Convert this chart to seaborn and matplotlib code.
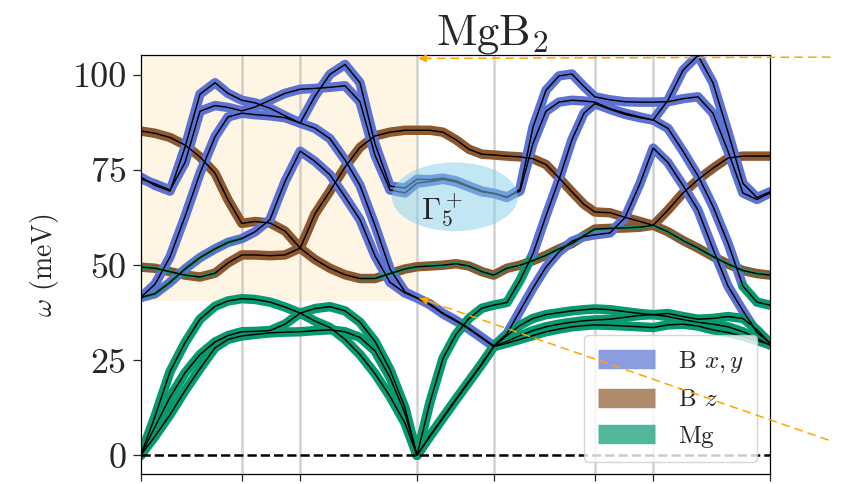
import numpy as np
import pandas as pd
import matplotlib
matplotlib.use("Agg")
import matplotlib.pyplot as plt
import seaborn as sns
from matplotlib.patches import Ellipse
from matplotlib.lines import Line2D

# ---------------- data ----------------
# high-symmetry points along Γ-M-K-Γ-A-L-H-A (cumulative |k|, 1/Å)
sym_pos = [0.0, 1.1755, 1.8542, 3.2117, 4.1032, 5.2787, 5.9574, 7.3149]

# sampling positions along the path
k = [0.0, 0.166, 0.341, 0.515, 0.689, 0.864, 1.015, 1.1755,          # Γ-M
     1.329, 1.503, 1.677, 1.8542,                                     # M-K
     2.026, 2.200, 2.375, 2.549, 2.723, 2.898, 3.072, 3.2117,         # K-Γ
     3.363, 3.514, 3.665, 3.816, 3.967, 4.1032,                       # Γ-A
     4.258, 4.409, 4.560, 4.711, 4.862, 5.013, 5.153, 5.2787,         # A-L
     5.455, 5.629, 5.804, 5.9574,                                     # L-H
     6.129, 6.304, 6.478, 6.652, 6.827, 7.001, 7.164, 7.3149]         # H-A

# phonon branches (meV)
b1g = [85.3, 84.7, 83.6, 81.6, 78.5, 74.2, 67.2, 61.0,
       61.5, 61.1, 59.0, 54.5,
       63.5, 69.5, 75.8, 81.0, 84.0, 85.0, 85.5, 85.5,
       85.5, 85.0, 83.0, 80.5, 79.2, 79.0,
       78.7, 78.5, 78.0, 76.5, 73.0, 69.3, 66.0, 64.0,
       63.8, 62.6, 61.5, 60.5,
       64.5, 69.0, 72.5, 75.5, 78.2, 78.7, 78.7, 78.7]
a2u = [49.5, 49.2, 48.3, 47.4, 46.9, 47.9, 50.6, 52.7,
       52.7, 52.5, 52.7, 54.5,
       51.5, 49.2, 47.5, 46.5, 46.5, 47.8, 49.0, 49.6,
       49.8, 50.0, 50.4, 49.8, 48.3, 47.4,
       49.2, 50.0, 51.2, 52.6, 54.3, 55.7, 57.8, 59.5,
       59.7, 59.8, 60.0, 60.5,
       58.8, 56.5, 54.5, 52.3, 50.3, 48.6, 47.8, 47.4]
e2g_a = [73.2, 71.0, 69.5, 81.0, 95.0, 98.0, 95.2, 93.4,
         92.7, 91.3, 89.3, 87.4,
         94.5, 100.2, 102.8, 98.0, 82.0, 70.8, 70.3, 72.6,
         72.5, 72.9, 72.2, 70.8, 69.5, 68.9,
         67.8, 70.0, 86.3, 96.0, 99.8, 100.3, 97.0, 94.3,
         93.5, 93.0, 92.9, 92.9,
         93.0, 93.8, 94.3, 90.0, 80.0, 69.0, 67.3, 69.0]
e2g_b = [72.7, 71.4, 69.8, 77.0, 90.5, 92.0, 91.5, 90.6,
         91.6, 93.4, 95.2, 96.3,
         96.5, 96.8, 97.2, 93.0, 79.0, 69.8, 69.0, 71.6,
         72.0, 72.6, 71.9, 70.6, 69.3, 68.9,
         68.0, 69.5, 82.0, 90.5, 92.9, 93.4, 93.2, 92.9,
         91.2, 90.0, 89.0, 88.2,
         93.4, 101.3, 105.2, 98.0, 85.0, 71.5, 67.8, 69.3]
eu_a = [41.5, 45.0, 52.2, 62.8, 74.2, 83.8, 89.0, 90.0,
        89.6, 89.3, 88.8, 87.4,
        86.0, 83.3, 77.7, 71.0, 60.5, 49.0, 43.0, 41.4,
        39.8, 37.4, 35.5, 33.4, 31.0, 28.8,
        32.0, 38.0, 44.0, 49.5, 53.5, 56.3, 57.5, 58.0,
        58.5, 62.5, 71.5, 80.8,
        77.0, 71.0, 64.5, 54.3, 44.5, 38.0, 32.3, 29.5]
eu_b = [41.5, 42.5, 45.5, 49.0, 52.0, 54.3, 56.0, 57.0,
        58.8, 62.0, 72.0, 80.0,
        77.3, 73.8, 68.0, 62.0, 52.5, 45.5, 42.7, 41.4,
        39.6, 37.2, 35.3, 33.2, 30.8, 28.6,
        31.5, 34.2, 36.0, 37.0, 37.5, 38.0, 38.3, 38.5,
        38.3, 37.8, 37.3, 37.0,
        36.5, 35.7, 35.0, 34.5, 33.8, 32.5, 30.8, 29.0]
ac_1 = [0.0, 10.2, 22.0, 29.6, 35.8, 39.2, 40.6, 41.2,
        41.0, 40.3, 39.0, 37.4,
        35.3, 33.6, 30.5, 26.5, 21.5, 15.5, 8.5, 0.0,
        14.0, 25.5, 31.8, 36.0, 38.7, 39.5,
        40.2, 46.0, 53.0, 63.0, 72.5, 83.0, 90.0, 92.5,
        91.0, 89.7, 88.8, 88.2,
        86.0, 80.0, 73.5, 65.5, 55.8, 44.5, 40.3, 39.5]
ac_2 = [0.0, 7.5, 15.3, 21.7, 26.5, 29.8, 31.5, 32.5,
        32.6, 32.8, 34.5, 37.4,
        38.6, 39.1, 38.0, 35.0, 30.0, 22.5, 12.5, 0.0,
        5.2, 10.0, 14.8, 19.5, 24.2, 28.6,
        30.0, 31.5, 32.8, 33.8, 34.5, 35.0, 35.4, 35.6,
        35.8, 36.3, 36.8, 37.0,
        37.3, 36.5, 35.8, 36.0, 36.5, 36.0, 33.0, 29.5]
ac_3 = [0.0, 5.0, 10.7, 17.0, 22.8, 28.3, 30.5, 31.4,
        31.8, 32.2, 32.4, 32.5,
        32.8, 33.0, 32.5, 31.0, 27.5, 20.5, 11.0, 0.0,
        5.0, 9.8, 14.6, 19.3, 24.0, 28.6,
        29.5, 30.5, 31.5, 32.5, 33.2, 33.8, 34.1, 34.3,
        34.2, 34.0, 33.8, 33.6,
        34.3, 34.5, 34.0, 33.0, 32.3, 31.3, 30.2, 29.1]

band_names = ["b1g", "a2u", "e2g_a", "e2g_b", "eu_a", "eu_b", "ac_1", "ac_2", "ac_3"]
band_values = [b1g, a2u, e2g_a, e2g_b, eu_a, eu_b, ac_1, ac_2, ac_3]

# dominant orbital character per segment (x = B x,y ; z = B z ; m = Mg)
main_char = ["z" * 46,
             "z" * 46,
             "x" * 46,
             "x" * 46,
             "x" * 46,
             "x" * 25 + "m" * 21,
             "m" * 28 + "x" * 15 + "m" * 3,
             "m" * 46,
             "m" * 46]
# secondary character (thin core), '.' = none
minor_char = ["." * 46,
              "m" * 5 + "." * 10 + "m" * 31,
              "." * 46,
              "." * 46,
              "." * 46,
              "m" * 7 + "." * 39,
              "." * 46,
              "." * 46,
              "." * 46]

legend_labels = ["B $x,y$", "B $z$", "Mg"]
y_ticks = [0, 25, 50, 75, 100]

# ---------------- style ----------------
sns.set_style("ticks")
plt.rcParams.update({
    "font.family": "serif",
    "font.serif": ["cmr10"],
    "mathtext.fontset": "cm",
    "axes.formatter.use_mathtext": True,
    "axes.unicode_minus": False,
})

char_color = {"x": "#5c73d3", "z": "#8d582d", "m": "#07996f"}

fig = plt.figure(figsize=(8.6, 4.84), dpi=100)
ax = fig.add_axes([0.1636, 0.020, 0.7317, 0.8664])

kk = np.asarray(k)


def runs(chars):
    n = len(chars) - 1
    out = []
    i = 0
    while i < n:
        c = chars[i]
        j = i
        while j + 1 < n and chars[j + 1] == c:
            j += 1
        out.append((c, i, j + 1))
        i = j + 1
    return out


# fat bands
for vals, mc in zip(band_values, main_char):
    vv = np.asarray(vals)
    for c, a, b in runs(mc):
        ax.plot(kk[a:b + 1], vv[a:b + 1], color=char_color[c], lw=6.8,
                solid_capstyle="round", solid_joinstyle="round", zorder=2)
for vals, sc in zip(band_values, minor_char):
    vv = np.asarray(vals)
    for c, a, b in runs(sc):
        if c == ".":
            continue
        ax.plot(kk[a:b + 1], vv[a:b + 1], color=char_color[c], lw=2.6,
                solid_capstyle="round", solid_joinstyle="round", zorder=2.5)

# thin black band lines via seaborn
df = pd.DataFrame({
    "k": np.tile(kk, len(band_values)),
    "E": np.concatenate([np.asarray(v) for v in band_values]),
    "band": np.repeat(band_names, len(k)),
})
sns.lineplot(data=df, x="k", y="E", units="band", estimator=None, sort=False,
             color="black", lw=1.05, ax=ax, zorder=3, legend=False)

# high-symmetry vertical lines
for xp in sym_pos[1:-1]:
    ax.axvline(xp, color="gray", alpha=0.35, lw=1.8, zorder=1)

# zero line
ax.axhline(0, color="black", ls="--", lw=1.8, zorder=3.5)

# shaded zoom region
ax.fill_between([sym_pos[0], sym_pos[3]], 40.5, 110, color="orange", alpha=0.1,
                lw=0, zorder=0.5)

# Γ5+ highlight
ax.add_patch(Ellipse((3.653, 68.0), 1.465, 18.1, facecolor="skyblue", alpha=0.5,
                     lw=0, zorder=4))
ax.text(3.50, 64.3, r"$\Gamma_5^+$", fontsize=22, ha="center", va="center", zorder=5)

# dashed pointer arrows
for tip, start, off in [((3.227, 104.4), (0.965, 0.882), (9, 0)),
                        ((3.245, 41.3), (0.963, 0.091), (8.5, -2.9))]:
    ax.annotate("", xy=tip, xycoords="data", xytext=start,
                textcoords="figure fraction",
                arrowprops=dict(arrowstyle="-", color="orange", lw=1.1,
                                linestyle=(0, (5, 4)), shrinkA=0, shrinkB=0),
                annotation_clip=False, zorder=6)
    ax.annotate("", xy=tip, xycoords="data", xytext=off,
                textcoords="offset points",
                arrowprops=dict(arrowstyle="-|>", color="orange", lw=1.1,
                                mutation_scale=11, shrinkA=0, shrinkB=0),
                annotation_clip=False, zorder=6)

# axes
ax.set_xlim(sym_pos[0], sym_pos[-1])
ax.set_ylim(-5, 105.3)
ax.set_xticks(sym_pos)
ax.set_xticklabels([""] * len(sym_pos))
ax.set_yticks(y_ticks)
ax.set_yticklabels([str(t) for t in y_ticks])
ax.tick_params(axis="y", labelsize=26, length=6, width=0.9, direction="out", pad=4)
ax.tick_params(axis="x", length=5, width=0.9, direction="out")
ax.set_xlabel("")
ax.set_ylabel(r"$\omega$ (meV)", fontsize=20, labelpad=8)
for sp in ax.spines.values():
    sp.set_visible(True)
    sp.set_linewidth(0.9)
    sp.set_color("black")

# legend
handles = [Line2D([0], [0], color=char_color[c], lw=14, alpha=0.7,
                  solid_capstyle="butt") for c in ["x", "z", "m"]]
ax.legend(handles, legend_labels, loc="lower right", fontsize=18, handlelength=2.3,
          labelspacing=0.57, handletextpad=0.9, borderpad=0.55, framealpha=0.8)

# title
fig.text(0.572, 0.909, r"MgB$_2$", fontsize=32, ha="center", va="baseline")

fig.savefig("out.png", dpi=100)
